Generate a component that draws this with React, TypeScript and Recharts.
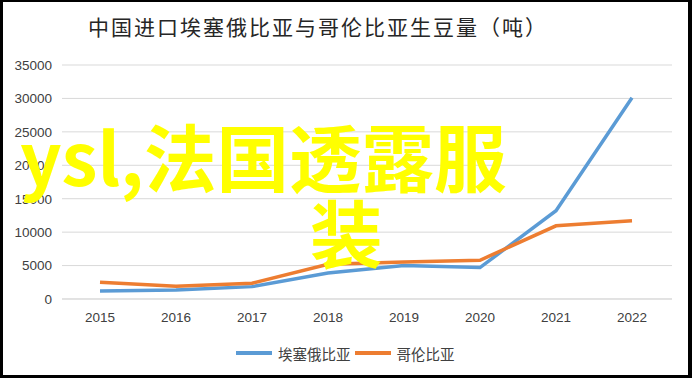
import React from "react";
import { LineChart, Line, XAxis, YAxis, CartesianGrid } from "recharts";

const years = ["2015", "2016", "2017", "2018", "2019", "2020", "2021", "2022"];
const ethiopia = [1200, 1350, 1850, 3900, 5000, 4700, 13200, 30100];
const colombia = [2500, 1900, 2350, 5200, 5550, 5800, 10950, 11700];
const yTicks = [0, 5000, 10000, 15000, 20000, 25000, 30000, 35000];
const seriesNames = ["埃塞俄比亚", "哥伦比亚"];
const seriesColors = ["#5B9BD5", "#ED7D31"];
const titleText = "中国进口埃塞俄比亚与哥伦比亚生豆量（吨）";
const overlayLines = ["ysl,法国透露服", "装"];

const data = years.map((y, i) => ({ year: y, eth: ethiopia[i], col: colombia[i] }));

const cjk = '"Noto Sans CJK SC", "Noto Sans", sans-serif';
const latin = '"Liberation Sans", Arial, sans-serif';

export default function App() {
  return (
    <div
      style={{
        position: "fixed",
        left: 0,
        top: 0,
        width: 692,
        height: 378,
        background: "#fff",
        overflow: "hidden",
      }}
    >
      <LineChart
        width={692}
        height={378}
        data={data}
        margin={{ top: 65, right: 20, bottom: 0, left: 0 }}
      >
        <CartesianGrid vertical={false} stroke="#D9D9D9" strokeWidth={1} />
        <XAxis
          dataKey="year"
          padding={{ left: 38, right: 40 }}
          axisLine={{ stroke: "#D9D9D9" }}
          tickLine={false}
          tickSize={0}
          tickMargin={13}
          height={79}
          tick={{ fill: "#404040", fontSize: 13.5, fontFamily: latin }}
          interval={0}
        />
        <YAxis
          domain={[0, 35000]}
          ticks={yTicks}
          axisLine={false}
          tickLine={false}
          tickSize={0}
          tickMargin={10}
          width={62}
          tick={{ fill: "#404040", fontSize: 13.5, fontFamily: latin }}
          interval={0}
        />
        <Line
          type="linear"
          dataKey="eth"
          name={seriesNames[0]}
          stroke={seriesColors[0]}
          strokeWidth={3.5}
          dot={false}
          isAnimationActive={false}
        />
        <Line
          type="linear"
          dataKey="col"
          name={seriesNames[1]}
          stroke={seriesColors[1]}
          strokeWidth={3.5}
          dot={false}
          isAnimationActive={false}
        />
      </LineChart>

      {/* Title */}
      <div
        style={{
          position: "absolute",
          left: 0,
          width: 636,
          top: 11,
          textAlign: "center",
          fontFamily: cjk,
          fontSize: 21,
          letterSpacing: 2,
          color: "#262626",
          lineHeight: "30px",
          whiteSpace: "nowrap",
        }}
      >
        {titleText}
      </div>

      {/* Legend */}
      <div
        style={{
          position: "absolute",
          left: 236,
          top: 343,
          height: 20,
          display: "flex",
          alignItems: "center",
          fontFamily: cjk,
          fontSize: 14.5,
          color: "#404040",
          whiteSpace: "nowrap",
        }}
      >
        {seriesNames.map((n, i) => (
          <div key={n} style={{ display: "flex", alignItems: "center" }}>
            <div style={{ width: 36, height: 4, background: seriesColors[i], marginRight: 6 }} />
            <span style={{ marginRight: 4 }}>{n}</span>
          </div>
        ))}
      </div>

      {/* Yellow overlay text */}
      <div
        style={{
          position: "absolute",
          left: 20,
          top: 118,
          fontFamily: cjk,
          fontWeight: 700,
          fontSize: 72.5,
          color: "#FFFF00",
          lineHeight: "74px",
          whiteSpace: "nowrap",
        }}
      >
        {overlayLines[0]}
      </div>
      <div
        style={{
          position: "absolute",
          left: 310,
          top: 194,
          fontFamily: cjk,
          fontWeight: 700,
          fontSize: 72.5,
          color: "#FFFF00",
          lineHeight: "74px",
          whiteSpace: "nowrap",
        }}
      >
        {overlayLines[1]}
      </div>

      {/* Frame border */}
      <div
        style={{
          position: "absolute",
          left: 0,
          top: 0,
          width: 692,
          height: 378,
          boxSizing: "border-box",
          borderTop: "2px solid #000",
          borderLeft: "3px solid #000",
          borderRight: "4px solid #000",
          borderBottom: "3px solid #000",
          pointerEvents: "none",
        }}
      />
    </div>
  );
}
